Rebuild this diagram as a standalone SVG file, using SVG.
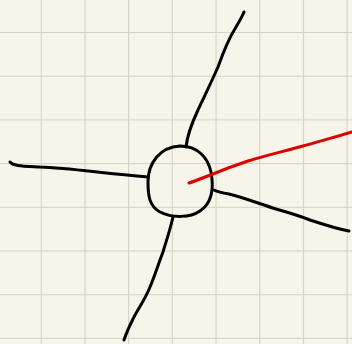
<svg xmlns="http://www.w3.org/2000/svg" width="352" height="344" viewBox="0 0 352 344">
<defs>
<pattern id="grid" x="40.7" y="32" width="43.7" height="43.7" patternUnits="userSpaceOnUse">
<path d="M0.5,0 V43.7 M0,0.5 H43.7" fill="none" stroke="#d3d2c5" stroke-width="1.2"/>
</pattern>
<style>
.ink{fill:none;stroke:#000;stroke-width:3;stroke-linecap:round;stroke-linejoin:round}
.red{fill:none;stroke:#dd0000;stroke-width:3;stroke-linecap:round;stroke-linejoin:round}
</style>
</defs>
<rect width="352" height="344" fill="#f7f5e9"/>
<rect width="352" height="344" fill="url(#grid)"/>
<g id="connectors">
<path class="ink" d="M186,147 C187,138 190,127 198,110 C204,97 210,85 218,67 C224,50 231,35 236,27 C239,22 242,17 244,12"/>
<path class="ink" d="M10,162 C13,166 22,166 40,167 C70,168 100,173 148,177"/>
<path class="ink" d="M173,217 C170,230 166,242 163,252 C158,265 155,275 150,287 C145,300 137,310 133,319 C129,327 126,334 124,340"/>
<path class="ink" d="M214,190 C218,192 223,193 229,194 C245,198 260,204 276,209 C290,213 300,216 310,220 C325,225 338,229 349,231"/>
</g>
<g id="node">
<path class="ink" d="M180,146 C198,146 208,158 211,172 C214,188 212,203 200,211 C190,218 172,218 160,212 C149,206 148,195 148,182 C148,163 160,147 180,146 Z"/>
</g>
<g id="pointer">
<path class="red" d="M189,183 C198,180 205,177 213,174 C225,169 236,165 248,161 C268,155 285,151 303,146 C320,141 336,137 352,132"/>
</g>
</svg>
